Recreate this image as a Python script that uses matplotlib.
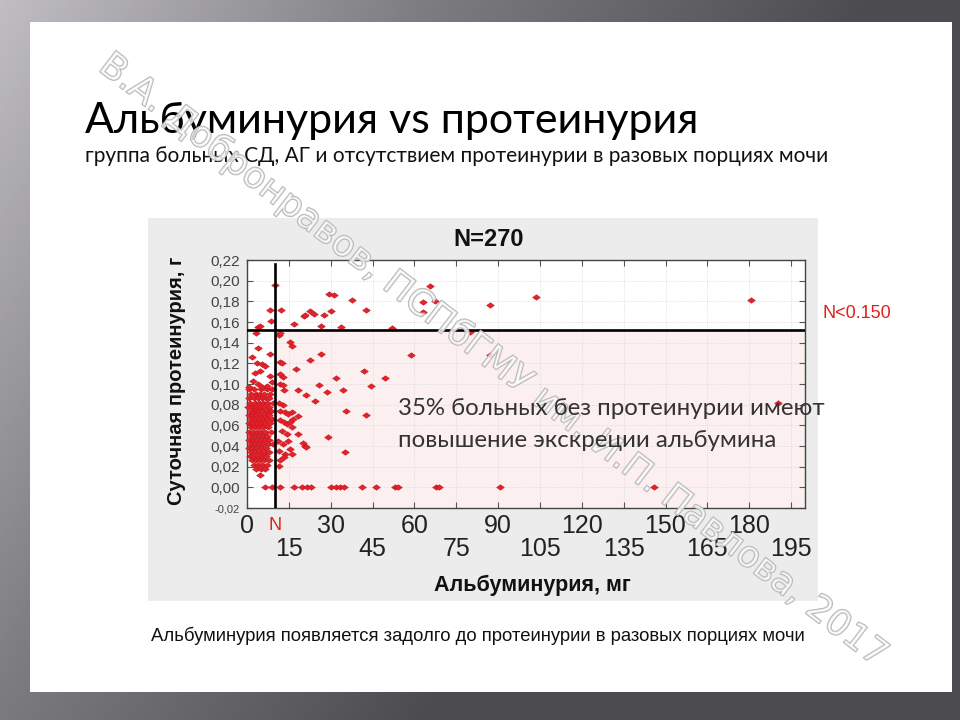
import numpy as np
import matplotlib.pyplot as plt
import matplotlib.patheffects as pe
from matplotlib.colors import LinearSegmentedColormap
from matplotlib.patches import Rectangle
from matplotlib.path import Path

# albuminuria (mg) / daily proteinuria (g)
# above the 0.150 threshold
alb_high = [4.0, 4.6, 8.7, 8.1, 12.3, 9.9, 16.8, 20.6, 22.7, 23.9, 20.7, 26.5, 27.7,
            29.5, 31.3, 30.0, 33.7, 37.7, 42.6, 51.8, 63.0, 63.1, 65.6, 67.3, 87.0,
            103.7, 180.6, 3.3, 11.8, 80.1]
prot_high = [0.155, 0.156, 0.161, 0.172, 0.172, 0.196, 0.158, 0.166, 0.171, 0.168, 0.167,
             0.156, 0.167, 0.187, 0.186, 0.171, 0.155, 0.181, 0.172, 0.154, 0.170, 0.179,
             0.195, 0.180, 0.176, 0.184, 0.181, 0.149, 0.149, 0.150]

# scattered below the threshold
alb_mid = [15.4, 16.3, 26.4, 58.8, 87.0, 12.4, 22.5, 17.5, 32.0, 41.8, 49.3, 44.5, 34.4,
           25.8, 28.7, 18.3, 21.3, 24.3, 35.6, 42.7, 18.3, 29.0, 20.1, 21.1, 35.0, 190.4,
           11.5]
prot_mid = [0.141, 0.137, 0.129, 0.128, 0.128, 0.120, 0.123, 0.115, 0.106, 0.113, 0.106,
            0.0985, 0.094, 0.0995, 0.092, 0.094, 0.089, 0.084, 0.074, 0.070, 0.069, 0.049,
            0.043, 0.039, 0.034, 0.082, 0.147]

# just right of the N line
alb_near = [11.8, 11.8, 13.0, 11.8, 13.0, 13.2, 11.5, 13.0, 11.8, 13.6, 14.8, 16.0, 16.5,
            11.8, 13.2, 14.2, 15.4, 12.4, 14.4, 16.0, 18.3, 11.2, 13.0, 14.8, 20.7, 11.5,
            13.6, 15.4, 11.8, 13.3, 11.5, 16.0]
prot_near = [0.121, 0.110, 0.107, 0.100, 0.0995, 0.094, 0.082, 0.080, 0.074, 0.073, 0.071,
             0.073, 0.066, 0.065, 0.063, 0.061, 0.063, 0.055, 0.052, 0.058, 0.052, 0.045,
             0.042, 0.045, 0.040, 0.035, 0.032, 0.037, 0.026, 0.029, 0.021, 0.032]

# left of the N line, upper part
alb_left = [4.0, 8.2, 1.7, 3.5, 5.2, 6.4, 2.9, 4.6, 8.2, 2.3, 4.0, 5.3, 7.0, 8.8, 0.6]
prot_left = [0.135, 0.129, 0.126, 0.120, 0.119, 0.117, 0.111, 0.113, 0.108, 0.103, 0.100,
             0.097, 0.098, 0.102, 0.097]

# dense cluster, albuminuria < 10 mg
alb_dense = [0.8, 2.5, 5.0, 7.2, 9.0,
             1.5, 3.2, 4.5, 6.0, 8.3,
             0.6, 2.4, 3.8, 5.2, 6.8, 8.0,
             1.2, 2.8, 4.2, 5.6, 7.2, 9.3,
             0.5, 2.0, 3.4, 4.8, 6.2, 7.8,
             1.4, 2.8, 4.0, 5.4, 7.0, 8.6,
             0.7, 2.2, 3.6, 5.0, 6.4, 7.8,
             1.5, 3.0, 4.4, 5.8, 7.2, 9.0,
             0.8, 2.3, 3.7, 5.1, 6.5, 8.2,
             1.6, 3.0, 4.4, 5.8, 7.4,
             0.6, 2.2, 3.6, 5.0, 6.6, 8.5,
             1.4, 2.9, 4.3, 5.7, 7.2,
             0.7, 2.2, 3.6, 5.0, 6.5, 8.0,
             1.5, 3.0, 4.4, 5.8, 7.4, 9.2,
             0.8, 2.3, 3.7, 5.1, 6.7,
             1.6, 3.0, 4.5, 6.0, 7.8,
             0.9, 2.4, 3.8, 5.3, 6.8,
             1.8, 3.2, 4.6, 6.2, 8.0,
             2.6, 4.0, 5.5, 7.0,
             3.3, 5.0, 6.6,
             4.6]
prot_dense = [0.095, 0.095, 0.095, 0.095, 0.095,
              0.090, 0.090, 0.090, 0.090, 0.090,
              0.086, 0.086, 0.086, 0.086, 0.086, 0.086,
              0.082, 0.082, 0.082, 0.082, 0.082, 0.082,
              0.078, 0.078, 0.078, 0.078, 0.078, 0.078,
              0.074, 0.074, 0.074, 0.074, 0.074, 0.074,
              0.070, 0.070, 0.070, 0.070, 0.070, 0.070,
              0.066, 0.066, 0.066, 0.066, 0.066, 0.066,
              0.062, 0.062, 0.062, 0.062, 0.062, 0.062,
              0.058, 0.058, 0.058, 0.058, 0.058,
              0.054, 0.054, 0.054, 0.054, 0.054, 0.054,
              0.050, 0.050, 0.050, 0.050, 0.050,
              0.046, 0.046, 0.046, 0.046, 0.046, 0.046,
              0.042, 0.042, 0.042, 0.042, 0.042, 0.042,
              0.038, 0.038, 0.038, 0.038, 0.038,
              0.034, 0.034, 0.034, 0.034, 0.034,
              0.030, 0.030, 0.030, 0.030, 0.030,
              0.026, 0.026, 0.026, 0.026, 0.026,
              0.022, 0.022, 0.022, 0.022,
              0.018, 0.018, 0.018,
              0.012]

# zero proteinuria row
alb_zero = [6.3, 8.9, 11.7, 17.0, 19.6, 21.5, 22.8, 30.1, 31.9, 33.5, 34.9, 41.2, 46.2,
            53.0, 54.2, 67.6, 68.8, 90.7, 146.0]
prot_zero = [0.0, 0.0, 0.0, 0.0, 0.0, 0.0, 0.0, 0.0, 0.0, 0.0, 0.0, 0.0, 0.0,
             0.0, 0.0, 0.0, 0.0, 0.0, 0.0]

alb_norm = 10        # "N" line
prot_norm = 0.152    # N<0.150 line
x_ticks_top = [0, 30, 60, 90, 120, 150, 180]
x_ticks_low = [15, 45, 75, 105, 135, 165, 195]
y_ticks = [-0.02, 0.0, 0.02, 0.04, 0.06, 0.08, 0.10, 0.12, 0.14, 0.16, 0.18, 0.20, 0.22]

W, H = 960, 720


def fx(x):
    return x / W


def fy(y):
    return 1 - y / H


fig = plt.figure(figsize=(9.6, 7.2), dpi=100)

# slide background
bg = fig.add_axes([0, 0, 1, 1])
bg.set_xlim(0, W)
bg.set_ylim(H, 0)
bg.axis('off')
yy, xx = np.mgrid[0:H, 0:W]
shade = np.clip((xx * 0.8 + yy * 0.5) / 700, 0, 1)
cmap = LinearSegmentedColormap.from_list('slide', ['#c0bec3', '#7c7b80', '#4c4b50'])
bg.imshow(shade, cmap=cmap, extent=(0, W, H, 0), aspect='auto', zorder=0)
bg.add_patch(Rectangle((30, 22), 922, 670, fc='white', ec='none', zorder=1))
bg.add_patch(Rectangle((148, 218), 670, 383, fc='#ececec', ec='none', zorder=2))

fig.text(fx(85), fy(133), 'Альбуминурия vs протеинурия', fontsize=31, family='Lato',
         color='black', va='baseline')
fig.text(fx(85), fy(162), 'группа больных СД, АГ и отсутствием протеинурии в разовых порциях мочи',
         fontsize=15, family='Lato', color='#111', va='baseline')

# chart
ax = fig.add_axes([fx(247), fy(508), 558 / W, 248 / H])
ax.set_facecolor('white')
ax.set_xlim(0, 200)
ax.set_ylim(-0.02, 0.22)
ax.add_patch(Rectangle((alb_norm, -0.02), 200 - alb_norm, prot_norm + 0.02,
                       fc='#fcefef', ec='none', zorder=0.2))
ax.set_axisbelow(True)

diamond = Path([(-1, 0), (0, 0.72), (1, 0), (0, -0.72), (-1, 0)])
for xs, ys in [(alb_dense, prot_dense), (alb_left, prot_left), (alb_near, prot_near),
               (alb_mid, prot_mid), (alb_high, prot_high), (alb_zero, prot_zero)]:
    ax.scatter(xs, ys, marker=diamond, s=30, c='#e3232b', edgecolors='#c2141c',
               linewidths=0.4, zorder=3, clip_on=False)

ax.axhline(prot_norm, color='black', lw=1.9, zorder=4)
ax.plot([alb_norm, alb_norm], [-0.02, 0.216], color='black', lw=1.9, zorder=4)

# two rows of x labels: major ticks on top row, minor ticks on the lower row
ax.set_xticks(x_ticks_top)
ax.set_xticklabels([str(v) for v in x_ticks_top], fontsize=18, family='Liberation Sans',
                   color='#222')
ax.set_xticks(x_ticks_low, minor=True)
ax.set_xticklabels([str(v) for v in x_ticks_low], minor=True, fontsize=18,
                   family='Liberation Sans', color='#222')
ax.set_yticks(y_ticks)
ax.set_yticklabels([('%.2f' % v).replace('.', ',') for v in y_ticks],
                   fontsize=11, family='Liberation Sans', color='#444')
ax.get_yticklabels()[0].set_fontsize(8)
ax.tick_params(which='both', direction='in', top=True, right=True, length=4, width=0.8,
               color='#555')
ax.tick_params(axis='x', which='major', pad=4)
ax.tick_params(axis='x', which='minor', pad=21)
ax.tick_params(axis='y', pad=5)
ax.grid(True, which='both', color='#d6d6d6', lw=0.6, ls=':')
for sp in ax.spines.values():
    sp.set_color('#444')
    sp.set_linewidth(1)

fig.text(fx(275), fy(525), 'N', color='#e0201a', fontsize=13, family='Liberation Sans',
         ha='center', va='center')
fig.text(fx(489), fy(240), 'N=270', fontsize=17, fontweight='bold', family='Liberation Sans',
         ha='center', va='center', color='#111')
fig.text(fx(176), fy(381), 'Суточная протеинурия, г', rotation=90, fontsize=14.5,
         fontweight='bold', family='Liberation Sans', ha='center', va='center', color='#111')
fig.text(fx(532), fy(585), 'Альбуминурия, мг', fontsize=15.5, fontweight='bold',
         family='Liberation Sans', ha='center', va='center', color='#111')

fig.text(fx(822), fy(313), 'N<0.150', color='#e0201a', fontsize=13, family='Liberation Sans',
         va='center')

# watermark
fig.text(fx(493), fy(360), 'В.А. Добронравов, ПСПбГМУ им. И.П. Павлова, 2017',
         rotation=-37.5, rotation_mode='anchor', fontsize=26, family='DejaVu Sans',
         color=(1, 1, 1, 0.55), ha='center', va='center', zorder=10,
         path_effects=[pe.Stroke(linewidth=1.2, foreground='#b4b4b4'), pe.Normal()])

fig.text(fx(398), fy(415), '35% больных без протеинурии имеют', fontsize=17.3, family='Lato',
         color='#333', va='baseline', zorder=11)
fig.text(fx(398), fy(447), 'повышение экскреции альбумина', fontsize=17.3, family='Lato',
         color='#333', va='baseline', zorder=11)
fig.text(fx(478), fy(636), 'Альбуминурия появляется задолго до протеинурии в разовых порциях мочи',
         fontsize=13.3, family='Liberation Sans', color='#111', ha='center', va='center')

fig.savefig('out.png', dpi=100)
